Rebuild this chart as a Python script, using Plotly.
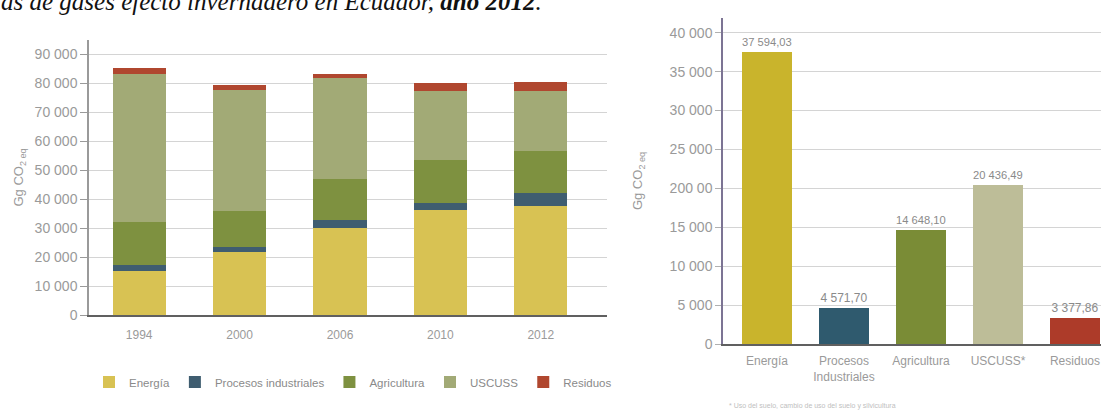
import plotly.graph_objects as go

W, H = 1101, 411

# ---- Left chart data (Gg CO2 eq) ----
years = ["1994", "2000", "2006", "2010", "2012"]
energia = [15300, 21900, 30000, 36300, 37594.03]
procesos = [2000, 1700, 2900, 2400, 4571.70]
agricultura = [14800, 12200, 14100, 14700, 14648.10]
uscuss = [51000, 42100, 34900, 23900, 20436.49]
residuos = [2200, 1400, 1400, 2900, 3377.86]

series_names = ["Energía", "Procesos industriales", "Agricultura", "USCUSS", "Residuos"]
left_colors = ["#d8c253", "#3f5d70", "#7e9140", "#a2aa76", "#b0472f"]

# ---- Right chart data (2012) ----
sectors = ["Energía", "Procesos<br>Industriales", "Agricultura", "USCUSS*", "Residuos"]
values_2012 = [37594.03, 4571.70, 14648.10, 20436.49, 3377.86]
right_colors = ["#c9b42c", "#2f5a6e", "#7a8c36", "#bdbd98", "#ad3b29"]

left_ticks = list(range(0, 90001, 10000))
left_ticktext = [f"{v:,}".replace(",", " ") for v in left_ticks]
right_ticks = list(range(0, 40001, 5000))
right_ticktext = ["0", "5 000", "10 000", "15 000", "200 00", "25 000", "30 000", "35 000", "40 000"]


def fmt(v):
    s = f"{v:,.2f}"
    return s.replace(",", " ").replace(".", ",")


def px_x(p):
    return p / W


def px_y(p):
    return 1 - p / H


FAM = "Liberation Sans, Arial"
TICK_FONT = dict(family=FAM, size=14, color="#9a9a9a")

fig = go.Figure()

for name, vals, col in zip(series_names, [energia, procesos, agricultura, uscuss, residuos], left_colors):
    fig.add_trace(go.Bar(x=years, y=vals, name=name, marker=dict(color=col, line=dict(width=0)),
                         xaxis="x", yaxis="y", showlegend=True))

fig.add_trace(go.Bar(x=sectors, y=values_2012, marker=dict(color=right_colors, line=dict(width=0)),
                     text=[fmt(v) for v in values_2012], textposition="outside", cliponaxis=False,
                     textfont=dict(family=FAM, size=12, color="#8a8a8a"),
                     xaxis="x2", yaxis="y2", showlegend=False, width=0.65))

fig.update_layout(
    width=W, height=H,
    margin=dict(l=0, r=0, t=0, b=0, autoexpand=False),
    paper_bgcolor="white", plot_bgcolor="white",
    barmode="stack", bargap=0.47,
    xaxis=dict(domain=[px_x(89), px_x(607)], type="category", range=[-0.5, 4.66],
               showgrid=False, showline=True, linecolor="#606060", linewidth=2,
               ticks="", tickfont=dict(family=FAM, size=12, color="#9a9a9a"),
               ticklabelstandoff=8, anchor="y"),
    yaxis=dict(domain=[px_y(315), px_y(40)], range=[0, 95000],
               tickvals=left_ticks, ticktext=left_ticktext, tickfont=TICK_FONT,
               showgrid=True, gridcolor="#d4d4d4", gridwidth=1,
               showline=True, linecolor="#9a9a9a", linewidth=1.5,
               ticks="outside", ticklen=7, tickcolor="#9a9a9a",
               zeroline=False, anchor="x",
               title=dict(text="Gg CO<sub>2 eq</sub>", font=dict(family=FAM, size=13, color="#9a9a9a"), standoff=8)),
    xaxis2=dict(domain=[px_x(723), 1.0], type="category", range=[-0.571, 4.338],
                showgrid=False, showline=True, linecolor="#606060", linewidth=2,
                ticks="", tickfont=dict(family=FAM, size=12, color="#9a9a9a"),
                ticklabelstandoff=5, anchor="y2"),
    yaxis2=dict(domain=[px_y(344), px_y(18)], range=[0, 41900],
                tickvals=right_ticks, ticktext=right_ticktext, tickfont=TICK_FONT,
                showgrid=True, gridcolor="#d4d4d4", gridwidth=1,
                showline=True, linecolor="#7c7494", linewidth=1.5,
                ticks="outside", ticklen=6, tickcolor="#b0b0b0",
                zeroline=False, anchor="x2",
                title=dict(text="Gg CO<sub>2 eq</sub>", font=dict(family=FAM, size=13, color="#9a9a9a"), standoff=24)),
    legend=dict(orientation="h", x=px_x(89), xanchor="left", y=px_y(382), yanchor="middle",
                font=dict(family=FAM, size=11.5, color="#8a8a8a"),
                traceorder="normal", bgcolor="rgba(0,0,0,0)", itemsizing="constant"),
    annotations=[
        dict(text="as de gases efecto invernadero en Ecuador, <b>año 2012</b>.",
             xref="paper", yref="paper", x=px_x(-1), y=px_y(17), xanchor="left", yanchor="bottom",
             showarrow=False, font=dict(family="Liberation Serif, Times New Roman", size=25, color="#111111", style="italic")),
        dict(text="* Uso del suelo, cambio de uso del suelo y silvicultura",
             xref="paper", yref="paper", x=px_x(812), y=px_y(406), xanchor="center", yanchor="middle",
             showarrow=False, font=dict(family=FAM, size=7, color="#c0c0c0")),
    ],
)

fig.write_html("out.html", config={"displayModeBar": False},
               post_script="document.body.style.margin='0';document.body.style.overflow='hidden';")
